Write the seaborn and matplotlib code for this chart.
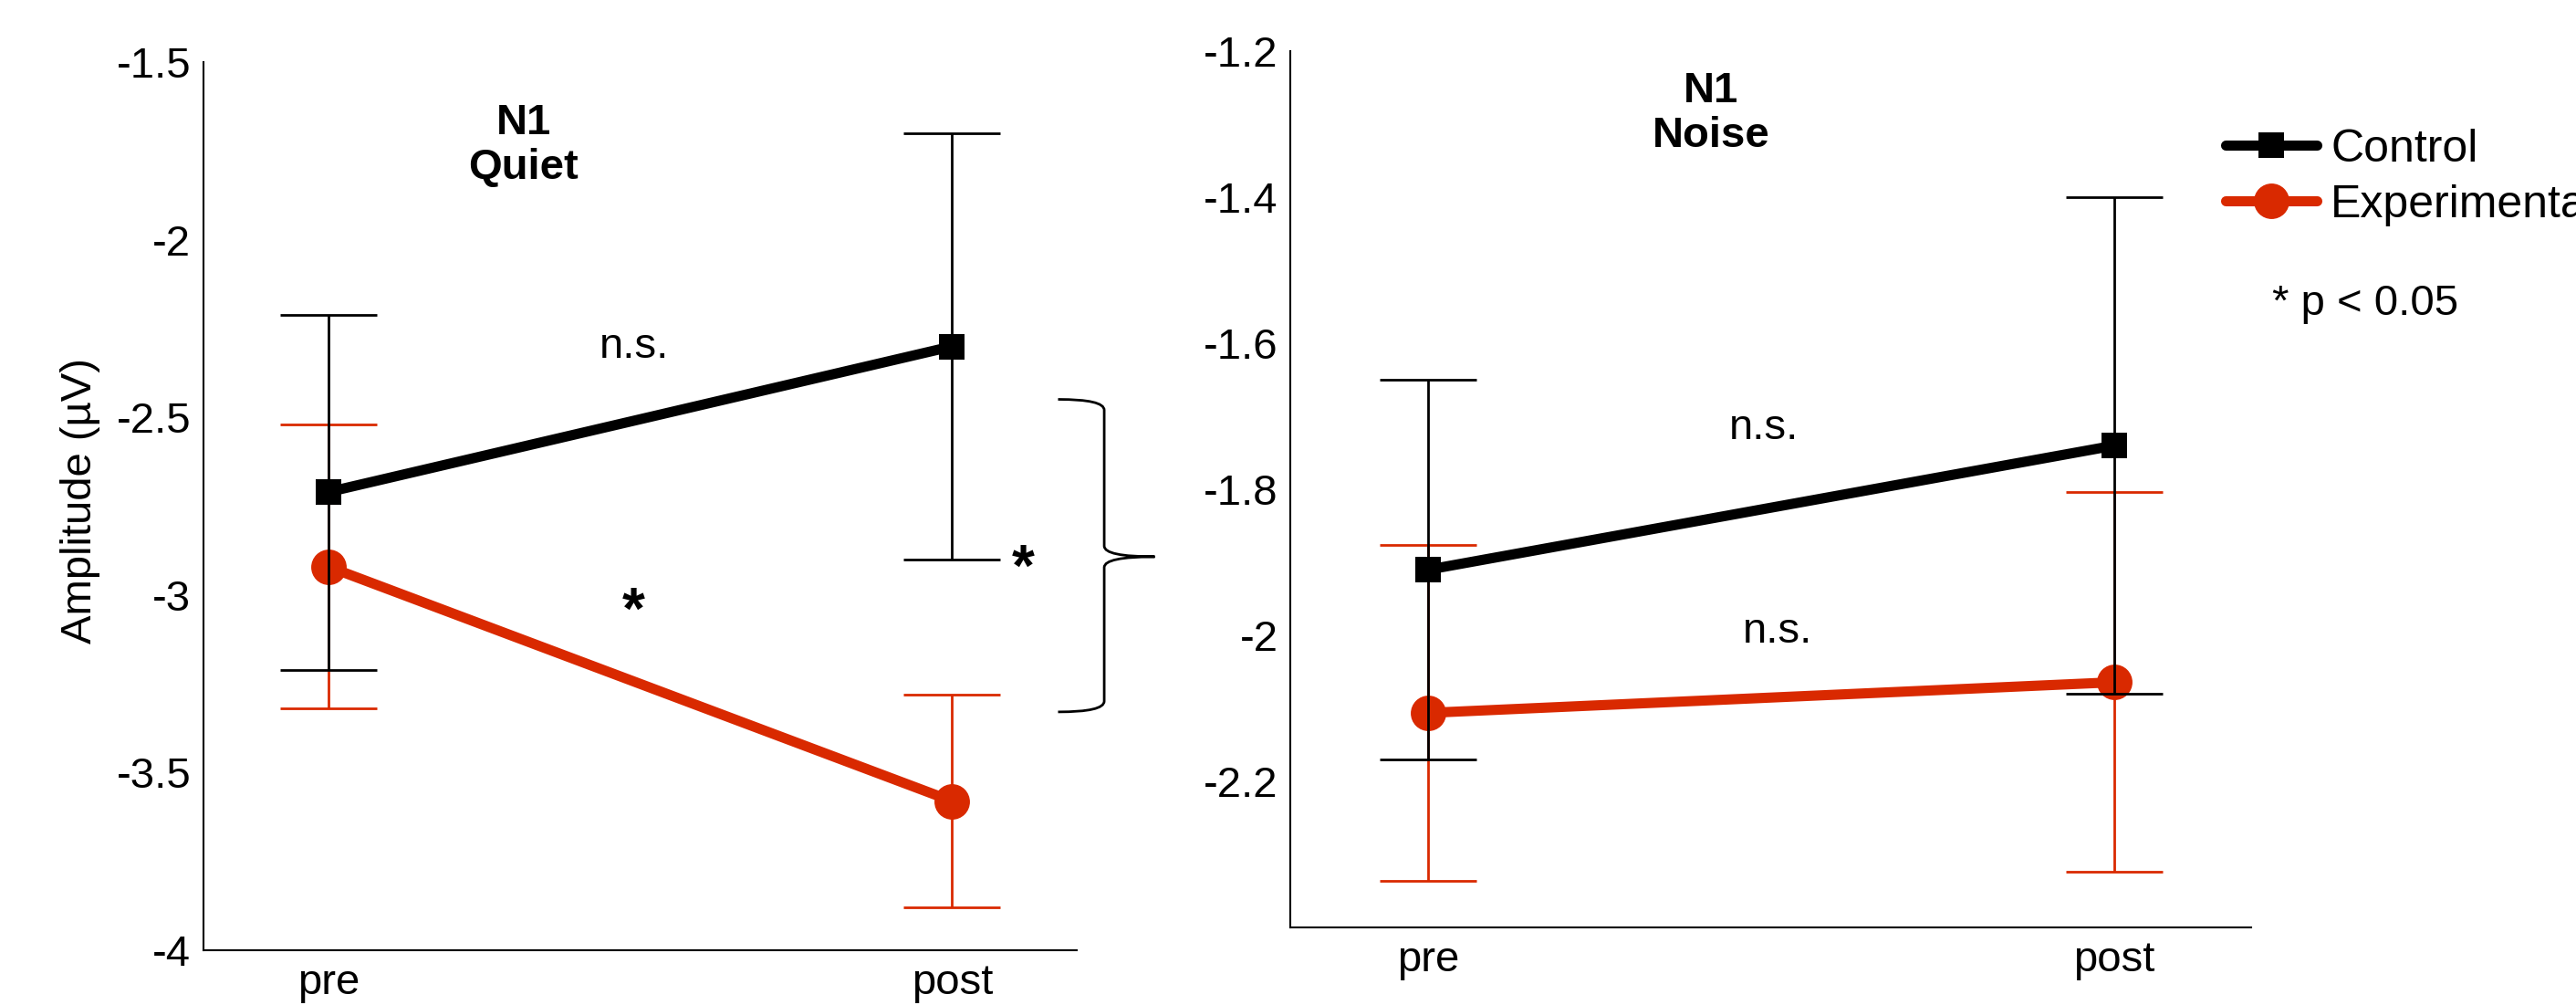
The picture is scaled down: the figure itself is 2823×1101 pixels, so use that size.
import numpy as np
import pandas as pd
import matplotlib
matplotlib.use("Agg")
import matplotlib.pyplot as plt
import seaborn as sns
from matplotlib.path import Path
from matplotlib.patches import PathPatch
from matplotlib.lines import Line2D

# ---------------- data ----------------
sessions = ["pre", "post"]
groups = ["Control", "Experimental"]

quiet_control_mean = [-2.71, -2.30]
quiet_control_err = [0.50, 0.60]
quiet_exp_mean = [-2.92, -3.58]
quiet_exp_err = [0.40, 0.30]

noise_control_mean = [-1.91, -1.74]
noise_control_err = [0.26, 0.34]
noise_exp_mean = [-2.106, -2.064]
noise_exp_err = [0.23, 0.26]

quiet_yticks = [-4, -3.5, -3, -2.5, -2, -1.5]
quiet_yticklabels = ["-4", "-3.5", "-3", "-2.5", "-2", "-1.5"]
noise_yticks = [-2.2, -2.0, -1.8, -1.6, -1.4, -1.2]
noise_yticklabels = ["-2.2", "-2", "-1.8", "-1.6", "-1.4", "-1.2"]

RED = "#d92900"
BLACK = "black"

sns.set_theme(style="white")
plt.rcParams["font.family"] = ["Liberation Sans", "DejaVu Sans"]
plt.rcParams["axes.linewidth"] = 1.5
plt.rcParams["text.color"] = "black"
plt.rcParams["axes.labelcolor"] = "black"
plt.rcParams["xtick.color"] = "black"
plt.rcParams["ytick.color"] = "black"

FS = 34
LW = 8
MS_SQ = 20
MS_CI = 28

fig = plt.figure(figsize=(28.23, 11.01), dpi=100)
ax1 = fig.add_axes([0.079, 0.0545, 0.339, 0.8835])
ax2 = fig.add_axes([0.501, 0.077, 0.373, 0.872])


def panel(ax, cm, ce, em, ee, ylim, yticks, yticklabels):
    df = pd.DataFrame({
        "x": [0, 1, 0, 1],
        "session": sessions * 2,
        "amp": cm + em,
        "err": ce + ee,
        "group": [groups[0]] * 2 + [groups[1]] * 2,
    })
    exp = df[df.group == "Experimental"]
    ctl = df[df.group == "Control"]
    # experimental
    ax.errorbar(exp.x, exp.amp, yerr=exp.err, fmt="none", ecolor=RED,
                elinewidth=2, capsize=38, capthick=2, zorder=2)
    sns.lineplot(data=exp, x="x", y="amp", color=RED, marker="o",
                 markersize=MS_CI, markeredgewidth=0, linewidth=LW,
                 ax=ax, zorder=3, legend=False)
    # control
    ax.errorbar(ctl.x, ctl.amp, yerr=ctl.err, fmt="none", ecolor=BLACK,
                elinewidth=2, capsize=38, capthick=2, zorder=4)
    sns.lineplot(data=ctl, x="x", y="amp", color=BLACK, marker="s",
                 markersize=MS_SQ, markeredgewidth=0, linewidth=LW,
                 ax=ax, zorder=5, legend=False)

    ax.set_xlim(-0.2, 1.2)
    ax.set_ylim(*ylim)
    ax.set_xticks([0, 1])
    ax.set_xticklabels(sessions)
    ax.set_yticks(yticks)
    ax.set_yticklabels(yticklabels)
    ax.set_xlabel("")
    ax.set_ylabel("")
    sns.despine(ax=ax)
    for s in ["left", "bottom"]:
        ax.spines[s].set_color("black")
        ax.spines[s].set_linewidth(1.5)
    ax.tick_params(axis="both", direction="in", length=8, width=1.5,
                   labelsize=FS, colors="black")
    ax.tick_params(axis="y", pad=10)
    ax.tick_params(axis="x", pad=10)


panel(ax1, quiet_control_mean, quiet_control_err, quiet_exp_mean, quiet_exp_err,
      (-4, -1.5), quiet_yticks, quiet_yticklabels)
panel(ax2, noise_control_mean, noise_control_err, noise_exp_mean, noise_exp_err,
      (-2.4, -1.2), noise_yticks, noise_yticklabels)

ax1.set_ylabel("Amplitude (µV)", fontsize=FS, color="black")
ax1.yaxis.set_label_coords(-0.118, 0.506)

# titles
ax1.text(0.313, -1.735, "N1\nQuiet", ha="center", va="center", fontsize=FS,
         fontweight="bold", linespacing=1.15, color="black")
ax2.text(0.413, -1.285, "N1\nNoise", ha="center", va="center", fontsize=FS,
         fontweight="bold", linespacing=1.15, color="black")

# significance annotations
ax1.text(0.49, -2.30, "n.s.", ha="center", va="center", fontsize=FS, color="black")
ax1.text(0.49, -3.05, "*", ha="center", va="center", fontsize=46,
         fontweight="bold", color="black")
ax1.text(1.114, -2.93, "*", ha="center", va="center", fontsize=46,
         fontweight="bold", clip_on=False, color="black")
ax2.text(0.49, -1.716, "n.s.", ha="center", va="center", fontsize=FS, color="black")
ax2.text(0.51, -1.995, "n.s.", ha="center", va="center", fontsize=FS, color="black")

# curly brace between post groups (annotation)
brace_top, brace_bot, brace_mid = -2.449, -3.329, -2.892
bx0, bx1, bx2 = 1.170, 1.244, 1.325
c = 0.03
verts = [
    (bx0, brace_top), (bx1, brace_top), (bx1, brace_top - c),
    (bx1, brace_mid + c), (bx1, brace_mid), (bx2, brace_mid),
    (bx1, brace_mid), (bx1, brace_mid - c),
    (bx1, brace_bot + c), (bx1, brace_bot), (bx0, brace_bot),
]
codes = [Path.MOVETO, Path.CURVE3, Path.CURVE3,
         Path.LINETO, Path.CURVE3, Path.CURVE3,
         Path.CURVE3, Path.CURVE3,
         Path.LINETO, Path.CURVE3, Path.CURVE3]
ax1.add_patch(PathPatch(Path(verts, codes), fill=False, lw=2,
                        edgecolor="black", clip_on=False))

# legend
handles = [
    Line2D([], [], color=BLACK, marker="s", markersize=MS_SQ, markeredgewidth=0, lw=LW),
    Line2D([], [], color=RED, marker="o", markersize=MS_CI, markeredgewidth=0, lw=LW),
]
leg = fig.legend(handles, groups, loc="upper left", bbox_to_anchor=(0.864, 0.872),
                 frameon=False, fontsize=36, handlelength=2.0, handletextpad=0.3,
                 labelspacing=0.3, borderpad=0, borderaxespad=0)
for t in leg.get_texts():
    t.set_color("black")
fig.text(0.882, 0.698, "* p < 0.05", ha="left", va="center", fontsize=FS, color="black")

fig.savefig("out.png", dpi=100, facecolor="white")
